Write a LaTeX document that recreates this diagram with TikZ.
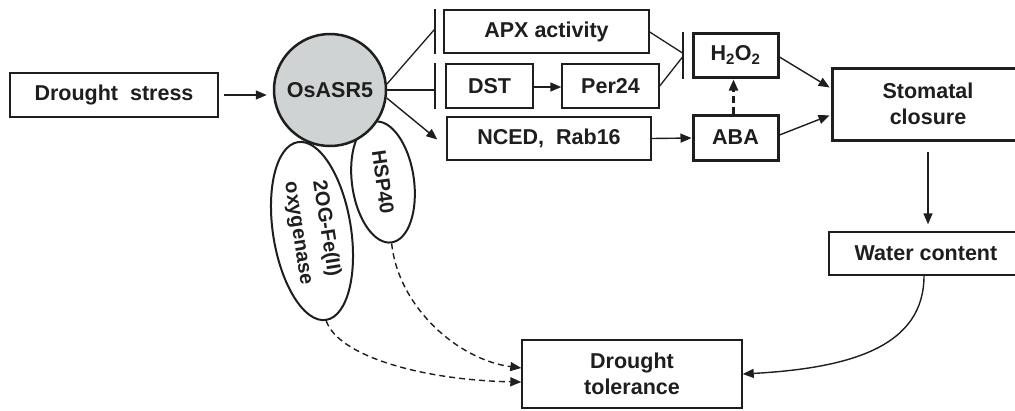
\documentclass[tikz,border=0pt]{standalone}
\usepackage{fontspec}
\setmainfont{Liberation Sans}
\usetikzlibrary{arrows.meta,shapes.geometric,calc}
\definecolor{txt}{RGB}{30,30,30}
\definecolor{osfill}{RGB}{208,211,211}
\tikzset{
  every node/.style={font=\fontsize{21.5bp}{26bp}\selectfont\bfseries, text=txt},
  box/.style={draw=txt, line width=1.4bp, rectangle, inner sep=0pt, align=center},
  thickbox/.style={box, line width=3bp},
  oval/.style={draw=txt, ellipse, fill=white, line width=2bp, inner sep=0pt, align=center,
    font=\fontsize{20bp}{28bp}\selectfont\bfseries},
  arr/.style={draw=txt, line width=1.4bp, -{Triangle[length=11bp,width=9bp]}},
  inh/.style={draw=txt, line width=1.3bp},
  bar/.style={draw=txt, line width=2bp},
  dasharr/.style={arr, dash pattern=on 6bp off 4bp},
}
\begin{document}
\begin{tikzpicture}[x=1bp, y=-1bp]
  \fill[white] (0,0) rectangle (1015,410);
  \useasboundingbox (0,0) rectangle (1015,410);

  % interacting proteins (behind the central circle)
  \node[oval, minimum width=180bp, minimum height=78bp, rotate=-81] (og) at (312,231)
    {2OG-Fe(II)\\oxygenase};
  \node[oval, minimum width=122bp, minimum height=62bp, rotate=-82] (hsp) at (383,182) {HSP40};

  % main nodes
  \node[box, minimum width=208bp, minimum height=44bp] (ds) at (114,95) {Drought\ \ stress};
  \node[circle, draw=txt, line width=2.5bp, fill=osfill, minimum size=112bp, inner sep=0pt]
    (os) at (330,90) {OsASR5};
  \node[box, minimum width=205bp, minimum height=43bp] (apx) at (546.5,31.5) {APX activity};
  \node[box, minimum width=87bp, minimum height=44bp] (dst) at (489.5,86) {DST};
  \node[box, minimum width=97bp, minimum height=44bp] (per) at (610.5,86) {Per24};
  \node[box, minimum width=204bp, minimum height=43bp] (nced) at (549,138.5) {NCED,\ \ Rab16};
  \node[thickbox, minimum width=85bp, minimum height=44bp] (hoo) at (735.5,55)
    {H\textsubscript{2}O\textsubscript{2}};
  \node[thickbox, minimum width=85bp, minimum height=45bp] (aba) at (735.5,137.5) {ABA};
  \node[thickbox, minimum width=192bp, minimum height=72bp] (sto) at (928,104) {Stomatal\\closure};
  \node[box, minimum width=194bp, minimum height=43bp] (wat) at (926,253.5) {Water content};
  \node[box, minimum width=220bp, minimum height=68bp] (tol) at (632,374) {Drought\\tolerance};

  % inhibition bars
  \coordinate (apxbar) at ([xshift=-8bp,yshift=3bp]apx.west);
  \coordinate (dstbar) at ([xshift=-10bp]dst.west);
  \coordinate (hoobar) at ([xshift=-9bp]hoo.west);
  \draw[bar] ([xshift=-8bp]apx.north west) -- ([xshift=-8bp]apx.south west);
  \draw[bar] ([xshift=-10bp]dst.north west) -- ([xshift=-10bp]dst.south west);
  \draw[bar] ([xshift=-9bp]hoo.north west) -- ([xshift=-9bp]hoo.south west);

  % connectors
  \draw[arr, shorten <=5bp, shorten >=6bp] (ds.east) -- (ds.east -| os.west);
  \draw[inh] (os.6) -- (apxbar);
  \draw[inh] (os.east) -- (os.east -| dstbar);
  \draw[arr] (os.-8) -- ([xshift=-9bp,yshift=-1bp]nced.west);
  \draw[arr] ([yshift=-1bp]dst.east) -- ([yshift=-1bp]per.west);
  \draw[inh] ([yshift=-0.5bp]apx.east) -- ([yshift=2bp]hoobar);
  \draw[inh] (per.east) -- ([yshift=-2bp]hoobar);
  \draw[arr] (nced.east) -- ([yshift=-0.5bp]aba.west);
  \draw[dasharr, line width=2.2bp, dash pattern=on 7bp off 4bp, shorten >=1bp]
    ([xshift=-2bp]aba.north) -- ([xshift=-2bp]hoo.south);
  \draw[arr, shorten >=1bp] ([yshift=-2bp]hoo.east) -- ([yshift=16bp]sto.west);
  \draw[arr, shorten >=1bp] ([yshift=2.5bp]aba.east) -- ([yshift=-11bp]sto.west);
  \draw[arr, shorten <=10bp, shorten >=7bp] (sto.south) -- (sto.south |- wat.north);
  \draw[arr] ([xshift=-2bp]wat.south) .. controls +(0,70) and +(110,-6) .. (tol.east);
  \draw[dasharr] (hsp.east) .. controls +(7,65) and +(-62,-8) .. ([yshift=6bp]tol.west);
  \draw[dasharr] (og.east) .. controls +(12,35) and +(-100,-2) .. ([yshift=-8bp]tol.west);
\end{tikzpicture}
\end{document}
